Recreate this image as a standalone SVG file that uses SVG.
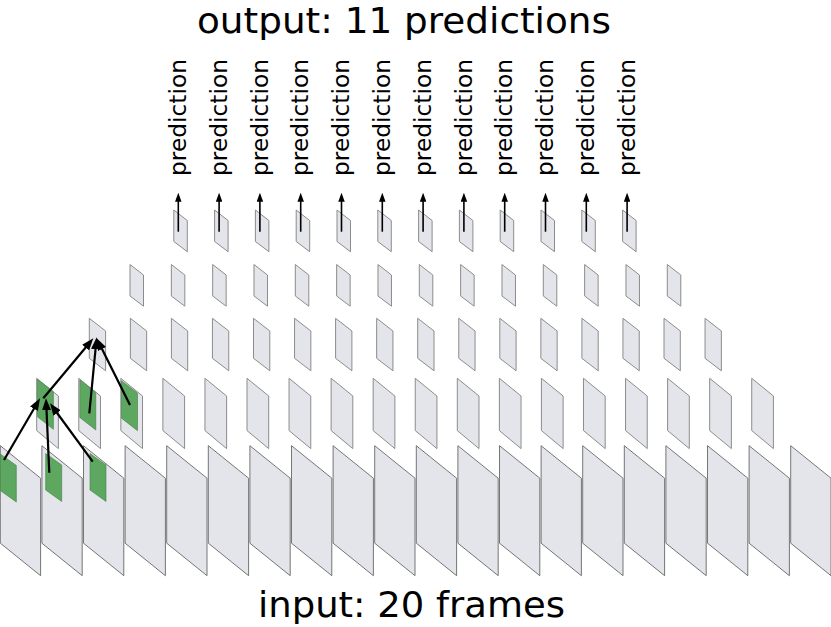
<svg xmlns="http://www.w3.org/2000/svg" xmlns:xlink="http://www.w3.org/1999/xlink" width="831" height="627" viewBox="0 0 831 627">
<style>
.f0{fill:#e4e5ea;stroke:#555;stroke-width:0.8}
.fu{fill:#e4e5ea;stroke:#8c8c8c;stroke-width:1}
.g{fill:#5da760;stroke:#3e7f41;stroke-width:0.6}
.t{font-family:"DejaVu Sans",sans-serif;fill:#000}
.title{font-size:35px}
.lbl{font-size:23px}
.c{stroke:#000;stroke-width:2.2;fill:none;marker-end:url(#head)}
.p{stroke:#000;stroke-width:1.6;fill:none;marker-end:url(#headS)}
</style>
<defs>
<marker id="head" viewBox="0 0 12 9" markerWidth="12" markerHeight="9" markerUnits="userSpaceOnUse" refX="4" refY="4.5" orient="auto"><path d="M0,0 L12,4.5 L0,9 z" fill="#000"/></marker>
<marker id="headS" viewBox="0 0 9 6.5" markerWidth="9" markerHeight="6.5" markerUnits="userSpaceOnUse" refX="3" refY="3.25" orient="auto"><path d="M0,0 L9,3.25 L0,6.5 z" fill="#000"/></marker>
<polygon id="L0" class="f0" points="0,0 40.3,32.5 40.3,130 0,97.5"/>
<polygon id="L1" class="fu" points="0,0 21.7,17.7 21.7,70.3 0,52.3"/>
<polygon id="L2" class="fu" points="0,0 16.3,12.7 16.3,52.5 0,40"/>
<polygon id="L3" class="fu" points="0,0 13.5,10.5 13.5,41.7 0,31.5"/>
<polygon id="G0" class="g" points="0,0 16,11.5 16,48 0,36.5"/>
<polygon id="G1" class="g" points="0,0 16,12.4 16,50 0,37.5"/>
</defs>

<g id="input-layer">
<g id="in-0"><use xlink:href="#L0" x="0.3" y="445.7"/><use xlink:href="#G0" x="0.3" y="454"/></g>
<g id="in-1"><use xlink:href="#L0" x="41.9" y="445.7"/><use xlink:href="#G0" x="45.7" y="453.5"/></g>
<g id="in-2"><use xlink:href="#L0" x="83.5" y="445.7"/><use xlink:href="#G0" x="90" y="453.5"/></g>
<g id="in-3"><use xlink:href="#L0" x="125.1" y="445.7"/></g>
<g id="in-4"><use xlink:href="#L0" x="166.7" y="445.7"/></g>
<g id="in-5"><use xlink:href="#L0" x="208.3" y="445.7"/></g>
<g id="in-6"><use xlink:href="#L0" x="249.9" y="445.7"/></g>
<g id="in-7"><use xlink:href="#L0" x="291.5" y="445.7"/></g>
<g id="in-8"><use xlink:href="#L0" x="333.1" y="445.7"/></g>
<g id="in-9"><use xlink:href="#L0" x="374.7" y="445.7"/></g>
<g id="in-10"><use xlink:href="#L0" x="416.3" y="445.7"/></g>
<g id="in-11"><use xlink:href="#L0" x="457.9" y="445.7"/></g>
<g id="in-12"><use xlink:href="#L0" x="499.5" y="445.7"/></g>
<g id="in-13"><use xlink:href="#L0" x="541.1" y="445.7"/></g>
<g id="in-14"><use xlink:href="#L0" x="582.7" y="445.7"/></g>
<g id="in-15"><use xlink:href="#L0" x="624.3" y="445.7"/></g>
<g id="in-16"><use xlink:href="#L0" x="665.9" y="445.7"/></g>
<g id="in-17"><use xlink:href="#L0" x="707.5" y="445.7"/></g>
<g id="in-18"><use xlink:href="#L0" x="749.1" y="445.7"/></g>
<g id="in-19"><use xlink:href="#L0" x="790.7" y="445.7"/></g>
</g>

<g id="layer-1">
<g id="h1-0"><use xlink:href="#L1" x="36.7" y="378.3"/><use xlink:href="#G1" x="37.4" y="379.3"/></g>
<g id="h1-1"><use xlink:href="#L1" x="78.76" y="378.3"/><use xlink:href="#G1" x="79.8" y="380"/></g>
<g id="h1-2"><use xlink:href="#L1" x="120.82" y="378.3"/><use xlink:href="#G1" x="121.5" y="380.7"/></g>
<g id="h1-3"><use xlink:href="#L1" x="162.88" y="378.3"/></g>
<g id="h1-4"><use xlink:href="#L1" x="204.94" y="378.3"/></g>
<g id="h1-5"><use xlink:href="#L1" x="247" y="378.3"/></g>
<g id="h1-6"><use xlink:href="#L1" x="289.06" y="378.3"/></g>
<g id="h1-7"><use xlink:href="#L1" x="331.12" y="378.3"/></g>
<g id="h1-8"><use xlink:href="#L1" x="373.18" y="378.3"/></g>
<g id="h1-9"><use xlink:href="#L1" x="415.24" y="378.3"/></g>
<g id="h1-10"><use xlink:href="#L1" x="457.3" y="378.3"/></g>
<g id="h1-11"><use xlink:href="#L1" x="499.36" y="378.3"/></g>
<g id="h1-12"><use xlink:href="#L1" x="541.42" y="378.3"/></g>
<g id="h1-13"><use xlink:href="#L1" x="583.48" y="378.3"/></g>
<g id="h1-14"><use xlink:href="#L1" x="625.54" y="378.3"/></g>
<g id="h1-15"><use xlink:href="#L1" x="667.6" y="378.3"/></g>
<g id="h1-16"><use xlink:href="#L1" x="709.66" y="378.3"/></g>
<g id="h1-17"><use xlink:href="#L1" x="751.72" y="378.3"/></g>
</g>

<g id="layer-2">
<g id="h2-0"><use xlink:href="#L2" x="89.3" y="318.3"/></g>
<g id="h2-1"><use xlink:href="#L2" x="130.35" y="318.3"/></g>
<g id="h2-2"><use xlink:href="#L2" x="171.4" y="318.3"/></g>
<g id="h2-3"><use xlink:href="#L2" x="212.45" y="318.3"/></g>
<g id="h2-4"><use xlink:href="#L2" x="253.5" y="318.3"/></g>
<g id="h2-5"><use xlink:href="#L2" x="294.55" y="318.3"/></g>
<g id="h2-6"><use xlink:href="#L2" x="335.6" y="318.3"/></g>
<g id="h2-7"><use xlink:href="#L2" x="376.65" y="318.3"/></g>
<g id="h2-8"><use xlink:href="#L2" x="417.7" y="318.3"/></g>
<g id="h2-9"><use xlink:href="#L2" x="458.75" y="318.3"/></g>
<g id="h2-10"><use xlink:href="#L2" x="499.8" y="318.3"/></g>
<g id="h2-11"><use xlink:href="#L2" x="540.85" y="318.3"/></g>
<g id="h2-12"><use xlink:href="#L2" x="581.9" y="318.3"/></g>
<g id="h2-13"><use xlink:href="#L2" x="622.95" y="318.3"/></g>
<g id="h2-14"><use xlink:href="#L2" x="664" y="318.3"/></g>
<g id="h2-15"><use xlink:href="#L2" x="705.05" y="318.3"/></g>
</g>

<g id="layer-3">
<g id="h3-0"><use xlink:href="#L3" x="130" y="264.5"/></g>
<g id="h3-1"><use xlink:href="#L3" x="171.33" y="264.5"/></g>
<g id="h3-2"><use xlink:href="#L3" x="212.66" y="264.5"/></g>
<g id="h3-3"><use xlink:href="#L3" x="253.99" y="264.5"/></g>
<g id="h3-4"><use xlink:href="#L3" x="295.32" y="264.5"/></g>
<g id="h3-5"><use xlink:href="#L3" x="336.65" y="264.5"/></g>
<g id="h3-6"><use xlink:href="#L3" x="377.98" y="264.5"/></g>
<g id="h3-7"><use xlink:href="#L3" x="419.31" y="264.5"/></g>
<g id="h3-8"><use xlink:href="#L3" x="460.64" y="264.5"/></g>
<g id="h3-9"><use xlink:href="#L3" x="501.97" y="264.5"/></g>
<g id="h3-10"><use xlink:href="#L3" x="543.3" y="264.5"/></g>
<g id="h3-11"><use xlink:href="#L3" x="584.63" y="264.5"/></g>
<g id="h3-12"><use xlink:href="#L3" x="625.96" y="264.5"/></g>
<g id="h3-13"><use xlink:href="#L3" x="667.29" y="264.5"/></g>
</g>

<g id="layer-4">
<g id="out-0"><use xlink:href="#L3" x="173.8" y="210"/></g>
<g id="out-1"><use xlink:href="#L3" x="214.6" y="210"/></g>
<g id="out-2"><use xlink:href="#L3" x="255.4" y="210"/></g>
<g id="out-3"><use xlink:href="#L3" x="296.2" y="210"/></g>
<g id="out-4"><use xlink:href="#L3" x="337" y="210"/></g>
<g id="out-5"><use xlink:href="#L3" x="377.8" y="210"/></g>
<g id="out-6"><use xlink:href="#L3" x="418.6" y="210"/></g>
<g id="out-7"><use xlink:href="#L3" x="459.4" y="210"/></g>
<g id="out-8"><use xlink:href="#L3" x="500.2" y="210"/></g>
<g id="out-9"><use xlink:href="#L3" x="541" y="210"/></g>
<g id="out-10"><use xlink:href="#L3" x="581.8" y="210"/></g>
<g id="out-11"><use xlink:href="#L3" x="622.6" y="210"/></g>
</g>

<g id="connectors">
<line class="c" x1="4" y1="460" x2="35.97" y2="405.21"/>
<line class="c" x1="49.3" y1="472.7" x2="46.35" y2="406.29"/>
<line class="c" x1="92.7" y1="461.7" x2="54.72" y2="409.76"/>
<line class="c" x1="43.3" y1="398.3" x2="88.18" y2="344.44"/>
<line class="c" x1="89.3" y1="413.3" x2="95.92" y2="345.26"/>
<line class="c" x1="130" y1="405" x2="100.27" y2="345.46"/>
<line class="p" x1="178.3" y1="231.7" x2="178.3" y2="198.7"/>
<line class="p" x1="219.1" y1="231.7" x2="219.1" y2="198.7"/>
<line class="p" x1="259.9" y1="231.7" x2="259.9" y2="198.7"/>
<line class="p" x1="300.7" y1="231.7" x2="300.7" y2="198.7"/>
<line class="p" x1="341.5" y1="231.7" x2="341.5" y2="198.7"/>
<line class="p" x1="382.3" y1="231.7" x2="382.3" y2="198.7"/>
<line class="p" x1="423.1" y1="231.7" x2="423.1" y2="198.7"/>
<line class="p" x1="463.9" y1="231.7" x2="463.9" y2="198.7"/>
<line class="p" x1="504.7" y1="231.7" x2="504.7" y2="198.7"/>
<line class="p" x1="545.5" y1="231.7" x2="545.5" y2="198.7"/>
<line class="p" x1="586.3" y1="231.7" x2="586.3" y2="198.7"/>
<line class="p" x1="627.1" y1="231.7" x2="627.1" y2="198.7"/>
</g>

<g id="labels" class="t lbl">
<text transform="translate(186,176) rotate(-90)" textLength="117" lengthAdjust="spacingAndGlyphs">prediction</text>
<text transform="translate(226.8,176) rotate(-90)" textLength="117" lengthAdjust="spacingAndGlyphs">prediction</text>
<text transform="translate(267.6,176) rotate(-90)" textLength="117" lengthAdjust="spacingAndGlyphs">prediction</text>
<text transform="translate(308.4,176) rotate(-90)" textLength="117" lengthAdjust="spacingAndGlyphs">prediction</text>
<text transform="translate(349.2,176) rotate(-90)" textLength="117" lengthAdjust="spacingAndGlyphs">prediction</text>
<text transform="translate(390,176) rotate(-90)" textLength="117" lengthAdjust="spacingAndGlyphs">prediction</text>
<text transform="translate(430.8,176) rotate(-90)" textLength="117" lengthAdjust="spacingAndGlyphs">prediction</text>
<text transform="translate(471.6,176) rotate(-90)" textLength="117" lengthAdjust="spacingAndGlyphs">prediction</text>
<text transform="translate(512.4,176) rotate(-90)" textLength="117" lengthAdjust="spacingAndGlyphs">prediction</text>
<text transform="translate(553.2,176) rotate(-90)" textLength="117" lengthAdjust="spacingAndGlyphs">prediction</text>
<text transform="translate(594,176) rotate(-90)" textLength="117" lengthAdjust="spacingAndGlyphs">prediction</text>
<text transform="translate(634.8,176) rotate(-90)" textLength="117" lengthAdjust="spacingAndGlyphs">prediction</text>
</g>

<g id="titles" class="t title">
<text x="197" y="32.6" textLength="414" lengthAdjust="spacingAndGlyphs">output: 11 predictions</text>
<text x="258" y="616.7" textLength="307" lengthAdjust="spacingAndGlyphs">input: 20 frames</text>
</g>
</svg>
